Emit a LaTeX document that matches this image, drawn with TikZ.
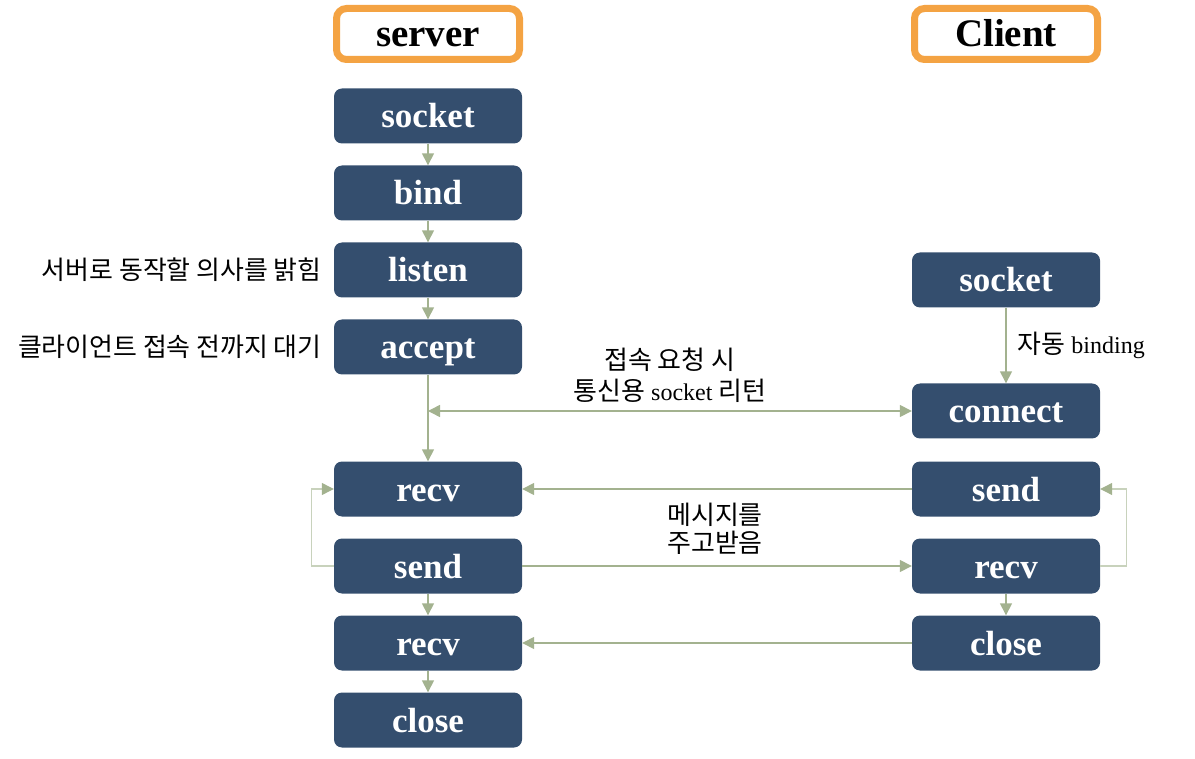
\documentclass[tikz,border=0pt]{standalone}
\usepackage{fontspec}
\setmainfont{Liberation Serif}
\newfontfamily\kr[Scale=1.08]{Noto Sans CJK KR}
\usetikzlibrary{positioning,arrows.meta}
\definecolor{boxblue}{RGB}{52,78,110}
\definecolor{headorange}{RGB}{244,163,67}
\definecolor{linegreen}{RGB}{163,178,143}
\definecolor{looplight}{RGB}{200,210,188}
\begin{document}
\begin{tikzpicture}[
            x=1pt, y=-1pt,
            head node/.style={rectangle,rounded corners=10pt,draw=headorange,line width=7pt,fill=white,
                font=\fontsize{39}{39}\selectfont\bfseries,minimum width=183pt,minimum height=51pt,inner sep=0,
                text height=26pt,text depth=0pt},
            func node/.style={rectangle,rounded corners=8pt,fill=boxblue,text=white,
                font=\fontsize{35}{35}\selectfont\bfseries,minimum width=188pt,minimum height=55pt,inner sep=0,
                text height=24pt,text depth=0pt},
            note node/.style={font=\fontsize{24}{31}\selectfont,inner sep=0,align=center},
            every edge/.style={draw=linegreen,line width=1.5pt,-{Triangle[length=12pt,width=12pt]}},
            loop line/.style={draw=looplight,line width=1.2pt,-{Triangle[length=12pt,width=12pt,color=linegreen]}},
        ]
            \useasboundingbox (0,0) rectangle (1195,759);

            \node[head node] (server) at (428,34) {server};
            \node[head node] (client) at (1006,34) {Client};

            \node[func node] (ssocket) at (428,116) {socket};
            \node[func node] (sbind) at (428,193) {bind};
            \node[func node] (slisten) at (428,270) {listen};
            \node[func node] (saccept) at (428,347) {accept};
            \node[func node] (srecva) at (428,489) {recv};
            \node[func node] (ssend) at (428,566) {send};
            \node[func node] (srecvb) at (428,643) {recv};
            \node[func node] (sclose) at (428,720) {close};

            \node[func node] (csocket) at (1006,280) {socket};
            \node[func node] (cconnect) at (1006,411) {connect};
            \node[func node] (csend) at (1006,489) {send};
            \node[func node] (crecv) at (1006,566) {recv};
            \node[func node] (cclose) at (1006,643) {close};

            \node[note node, left=12pt of slisten] (listennote) {\kr 서버로 동작할 의사를 밝힘};
            \node[note node, left=12pt of saccept] (acceptnote) {\kr 클라이언트 접속 전까지 대기};

            \coordinate (req) at (428,411);

            \path (ssocket) edge (sbind);
            \path (sbind) edge (slisten);
            \path (slisten) edge (saccept);
            \path (saccept) edge (srecva);
            \path (ssend) edge (srecvb);
            \path (srecvb) edge (sclose);
            \path (csocket) edge node[note node, right=11pt] (bindnote) {{\kr 자동} binding} (cconnect);
            \path (crecv) edge (cclose);

            \path (req) edge[{Triangle[length=12pt,width=12pt]}-{Triangle[length=12pt,width=12pt]}]
                node[note node, above=8pt] (reqnote) {{\kr 접속 요청 시}\\{\kr 통신용} socket {\kr 리턴}} (cconnect);
            \path (csend) edge (srecva);
            \path (ssend) edge node[note node, font=\fontsize{24}{28}\selectfont, above=11pt, xshift=-2pt] (msgnote)
                {\kr 메시지를\\\kr 주고받음} (crecv);
            \path (cclose) edge (srecvb);

            \draw[loop line] (ssend.west) -- ++(-22,0) |- (srecva.west);
            \draw[loop line] (crecv.east) -- ++(26,0) |- (csend.east);
        \end{tikzpicture}
\end{document}
